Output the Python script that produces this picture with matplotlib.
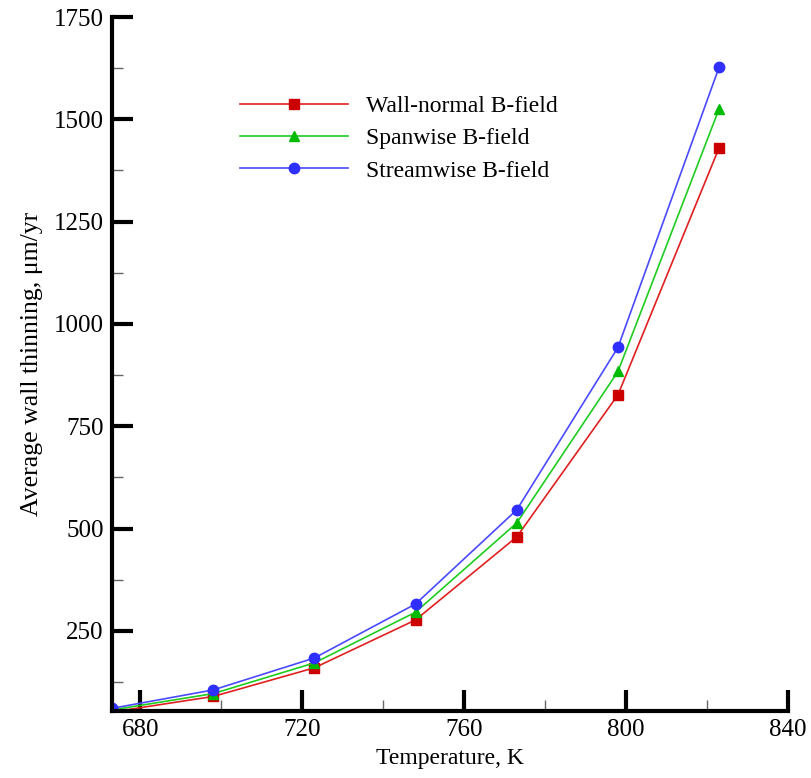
import matplotlib
matplotlib.use("Agg")
import matplotlib.pyplot as plt
from matplotlib.ticker import MultipleLocator

temperature = [673, 698, 723, 748, 773, 798, 823]
wall_normal = [52, 90, 160, 277, 480, 827, 1431]
spanwise = [57, 97, 172, 296, 514, 884, 1526]
streamwise = [61, 106, 184, 316, 546, 943, 1628]
labels = ["Wall-normal B-field", "Spanwise B-field", "Streamwise B-field"]

plt.rcParams['font.family'] = ['Liberation Serif', 'DejaVu Serif']
W, H = 811, 778
fig = plt.figure(figsize=(W/100, H/100), dpi=100)
ax = fig.add_axes([112/W, 1-711/H, (788-112)/W, (711-17)/H])

ax.plot(temperature, wall_normal, color='#e02020', lw=1.2, marker='s', ms=6.5,
        mfc='#cc0000', mec='#cc0000', label=labels[0])
ax.plot(temperature, spanwise, color='#20cc20', lw=1.2, marker='^', ms=6.5,
        mfc='#00bb00', mec='#00bb00', label=labels[1])
ax.plot(temperature, streamwise, color='#4a4aff', lw=1.2, marker='o', ms=7.5,
        mfc='#2f2fff', mec='#2f2fff', label=labels[2])

ax.set_xlim(673, 840)
ax.set_ylim(54.5, 1750)
ax.xaxis.set_minor_locator(MultipleLocator(20))
ax.yaxis.set_minor_locator(MultipleLocator(125))
ax.set_xticks([680, 720, 760, 800, 840])
ax.set_yticks([250, 500, 750, 1000, 1250, 1500, 1750])

for s in ['top', 'right']:
    ax.spines[s].set_visible(False)
for s in ['left', 'bottom']:
    ax.spines[s].set_linewidth(3)
ax.tick_params(which='major', direction='in', length=15, width=3, labelsize=18, pad=6)
ax.tick_params(which='minor', direction='in', length=8, width=1, color='#666666')

ax.set_xlabel("Temperature, K", fontsize=17, labelpad=5)
ax.set_ylabel("Average wall thinning, μm/yr", fontsize=18.5, labelpad=8)

leg = ax.legend(loc='upper left', bbox_to_anchor=(0.189, 0.887), frameon=False,
                fontsize=17, handlelength=4.6, handletextpad=0.75,
                labelspacing=0.46, borderaxespad=0, borderpad=0)

fig.savefig("out.png", dpi=100)
